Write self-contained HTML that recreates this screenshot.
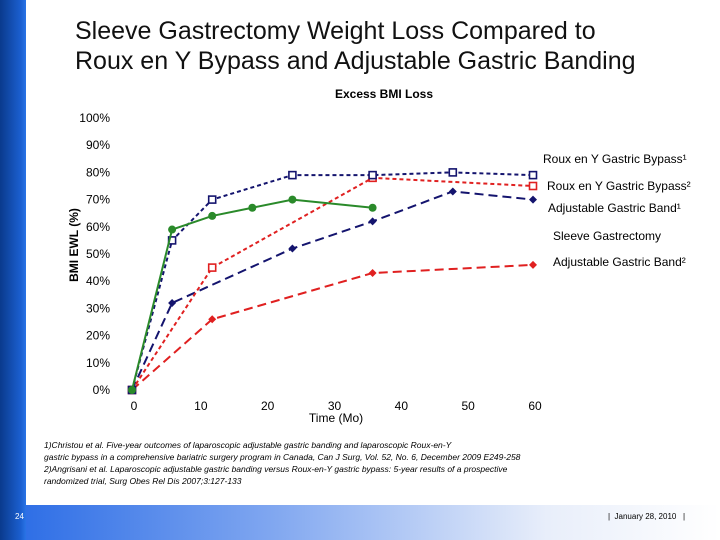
<!DOCTYPE html>
<html><head><meta charset="utf-8"><style>
body{margin:0;width:720px;height:540px;overflow:hidden;background:#fff;font-family:"Liberation Sans",sans-serif;position:relative}
.abs{position:absolute}
</style></head><body>
<div class="abs" style="left:0;top:0;width:26px;height:540px;background:linear-gradient(90deg,#0a3a8c,#1b5fd0 80%,#2a74e6)"></div>
<div class="abs" style="left:26px;top:505px;width:694px;height:35px;background:linear-gradient(90deg,#2f6fe6,#7fa6f0 35%,#e8eefa 75%,#fff)"></div>
<div class="abs" style="left:15px;top:512px;font-size:8px;color:#fff">24</div>
<div class="abs" style="left:608px;top:512px;font-size:8px;color:#000">|&nbsp; January 28, 2010 &nbsp;&nbsp;|</div>
<div class="abs" style="left:75px;top:16px;font-size:25px;line-height:30px;color:#111">Sleeve Gastrectomy Weight Loss Compared to<br>Roux en Y Bypass and Adjustable Gastric Banding</div>
<div class="abs" style="left:44px;top:439px;font-size:8.5px;line-height:12px;font-style:italic;color:#000">1)Christou et al. Five-year outcomes of laparoscopic adjustable gastric banding and laparoscopic Roux-en-Y<br>gastric bypass in a comprehensive bariatric surgery program in Canada, Can J Surg, Vol. 52, No. 6, December 2009 E249-258<br>2)Angrisani et al. Laparoscopic adjustable gastric banding versus Roux-en-Y gastric bypass: 5-year results of a prospective<br>randomized trial, Surg Obes Rel Dis 2007;3:127-133</div>
<svg class="abs" style="left:0;top:0" width="720" height="540" id="chart"></svg>
<script>
const xTicks=[0,10,20,30,40,50,60];
const yTicks=[0,10,20,30,40,50,60,70,80,90,100];
const rygb1X=[0,6,12,24,36,48,60], rygb1Y=[0,55,70,79,79,80,79];
const rygb2X=[0,12,36,60], rygb2Y=[0,45,78,75];
const agb1X=[0,6,24,36,48,60], agb1Y=[0,32,52,62,73,70];
const sgX=[0,6,12,18,24,36], sgY=[0,59,64,67,70,67];
const agb2X=[0,12,36,60], agb2Y=[0,26,43,46];
const legendNames=["Roux en Y Gastric Bypass\u00b9","Roux en Y Gastric Bypass\u00b2","Adjustable Gastric Band\u00b9","Sleeve Gastrectomy","Adjustable Gastric Band\u00b2"];
const sx=v=>132+v*(401/60), sy=v=>390-v*2.72;
const svg=document.getElementById('chart');const NS='http://www.w3.org/2000/svg';
function mk(t,a){const e=document.createElementNS(NS,t);for(const k in a)e.setAttribute(k,a[k]);svg.appendChild(e);return e;}
function txt(x,y,s,size,anchor,extra){const e=mk('text',Object.assign({x:x,y:y,'font-size':size,'text-anchor':anchor||'start','font-family':'Liberation Sans, sans-serif',fill:'#000'},extra||{}));e.textContent=s;return e;}
let t=txt(384,98,"Excess BMI Loss",12,'middle',{'font-weight':'bold'});


yTicks.forEach(v=>{const e=txt(110,sy(v)+4,v+"%",12,'end');

});
xTicks.forEach(v=>{const e=txt(sx(v)+2,410,String(v),12,'middle');

});
t=txt(336,422,"Time (Mo)",12,'middle');


t=txt(0,0,"BMI EWL (%)",12,'middle',{'font-weight':'bold',transform:'translate(78,245) rotate(-90)'});


function series(xs,ys,color,dash,marker,name,width){
 const pts=xs.map((x,i)=>sx(x)+','+sy(ys[i])).join(' ');
 const l=mk('polyline',{points:pts,fill:'none',stroke:color,'stroke-width':width,'stroke-dasharray':dash});
 
 
 xs.forEach((x,i)=>{const cx=sx(x),cy=sy(ys[i]);let m;
  if(marker==='sq')m=mk('rect',{x:cx-3.5,y:cy-3.5,width:7,height:7,fill:'#fff',stroke:color,'stroke-width':1.6});
  else if(marker==='dia')m=mk('polygon',{points:`${cx},${cy-4} ${cx+4},${cy} ${cx},${cy+4} ${cx-4},${cy}`,fill:color});
  else m=mk('circle',{cx:cx,cy:cy,r:4,fill:color});
  
  });
}
series(agb2X,agb2Y,'#e02020','9,5','dia','agb2',2);
series(agb1X,agb1Y,'#14146e','9,5','dia','agb1',2);
series(rygb2X,rygb2Y,'#e02020','4,3','sq','rygb2',2);
series(rygb1X,rygb1Y,'#14146e','4,3','sq','rygb1',2);
series(sgX,sgY,'#2a8a2a','','circ','sleeve',2);
const ly=[163,190,212,240,266], lx=[543,547,548,553,553];
legendNames.forEach((n,i)=>{const e=txt(lx[i],ly[i],n,12);

});
</script>
</body></html>
